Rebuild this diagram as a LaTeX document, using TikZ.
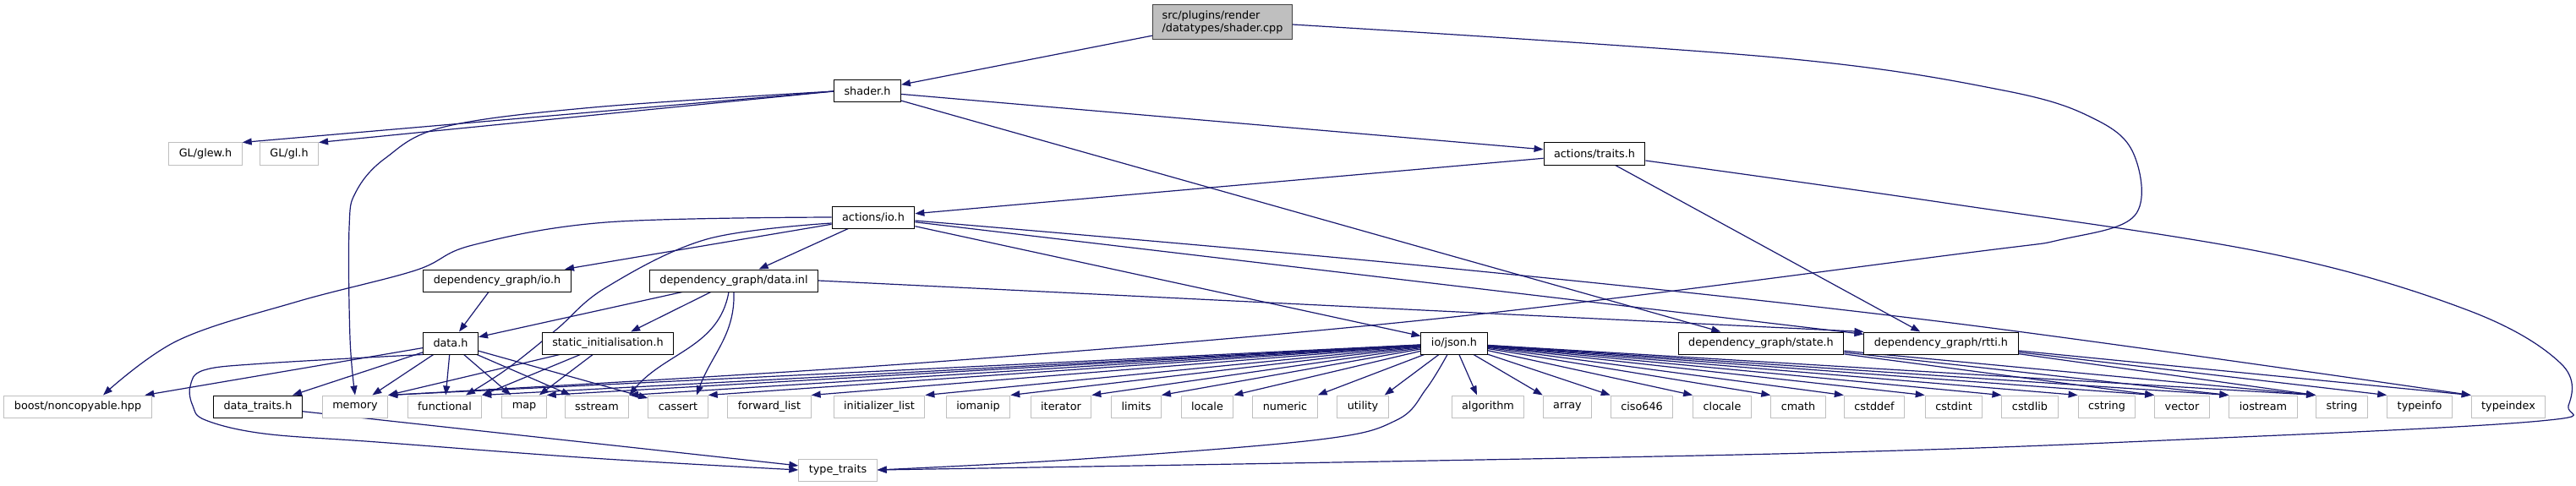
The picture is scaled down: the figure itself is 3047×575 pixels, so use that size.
\documentclass[tikz,border=0pt]{standalone}
\usepackage{fontspec}
\setmainfont{DejaVu Sans}
\usetikzlibrary{arrows.meta}
\pgfdeclarelayer{background}
\pgfsetlayers{background,main}
\definecolor{edgeblue}{HTML}{191970}
\definecolor{sysgray}{HTML}{BFBFBF}
\definecolor{docgray}{HTML}{404040}
\begin{document}
\begin{tikzpicture}[x=1pt, y=-1pt, font=\fontsize{12.8}{15}\selectfont,
  hdr/.style={draw=black, line width=1pt, fill=white, inner xsep=12pt, inner ysep=0pt, minimum height=26pt},
  stdhdr/.style={hdr, draw=sysgray},
  srcfile/.style={hdr, fill=sysgray, draw=docgray, align=left, minimum height=41pt, inner xsep=11pt},
  incl/.style={draw=edgeblue, line width=1.2pt, -{Triangle[length=11pt,width=8pt]}}]
  \useasboundingbox (0,0) rectangle (3047,575);
  % files
  \node[srcfile] (cpp) at (1446,26) {src/plugins/render\\/datatypes/shader.cpp};
  \node[hdr] (shader) at (1026,108) {shader.h};
  \node[stdhdr] (glew) at (243,182) {GL/glew.h};
  \node[stdhdr] (gl) at (342,182) {GL/gl.h};
  \node[hdr] (traits) at (1886,182) {actions/traits.h};
  \node[hdr] (actio) at (1033,257) {actions/io.h};
  \node[hdr] (dgio) at (588,332) {dependency\_graph/io.h};
  \node[hdr] (dginl) at (868,332) {dependency\_graph/data.inl};
  \node[hdr] (datah) at (533,406) {data.h};
  \node[hdr] (statinit) at (719,406) {static\_initialisation.h};
  \node[hdr] (json) at (1720,406) {io/json.h};
  \node[hdr] (state) at (2083,406) {dependency\_graph/state.h};
  \node[hdr] (rtti) at (2296,406) {dependency\_graph/rtti.h};
  % bottom row
  \node[stdhdr] (boost) at (92,481) {boost/noncopyable.hpp};
  \node[hdr] (dtraits) at (305,481) {data\_traits.h};
  \node[stdhdr] (memory) at (420,481) {memory};
  \node[stdhdr] (functional) at (526,481) {functional};
  \node[stdhdr] (map) at (620,481) {map};
  \node[stdhdr] (sstream) at (706,481) {sstream};
  \node[stdhdr] (cassert) at (802,481) {cassert};
  \node[stdhdr] (fwdlist) at (910,481) {forward\_list};
  \node[stdhdr] (initlist) at (1040,481) {initializer\_list};
  \node[stdhdr] (iomanip) at (1157,481) {iomanip};
  \node[stdhdr] (iterator) at (1255,481) {iterator};
  \node[stdhdr] (limits) at (1344,481) {limits};
  \node[stdhdr] (locale) at (1428,481) {locale};
  \node[stdhdr] (numeric) at (1520,481) {numeric};
  \node[stdhdr] (utility) at (1612,481) {utility};
  \node[stdhdr] (algorithm) at (1760,481) {algorithm};
  \node[stdhdr] (array) at (1854,481) {array};
  \node[stdhdr] (ciso) at (1942,481) {ciso646};
  \node[stdhdr] (clocale) at (2037,481) {clocale};
  \node[stdhdr] (cmath) at (2127,481) {cmath};
  \node[stdhdr] (cstddef) at (2217,481) {cstddef};
  \node[stdhdr] (cstdint) at (2311,481) {cstdint};
  \node[stdhdr] (cstdlib) at (2401,481) {cstdlib};
  \node[stdhdr] (cstring) at (2492,481) {cstring};
  \node[stdhdr] (vector) at (2581,481) {vector};
  \node[stdhdr] (iostream) at (2677,481) {iostream};
  \node[stdhdr] (string) at (2770,481) {string};
  \node[stdhdr] (typeinfo) at (2862,481) {typeinfo};
  \node[stdhdr] (typeindex) at (2967,481) {typeindex};
  \node[stdhdr] (ttraits) at (991,556) {type\_traits};
  \begin{pgfonlayer}{background}
  % shader.cpp
  \draw[incl] (cpp) -- (shader);
  \draw[incl] plot[smooth, tension=0.6] coordinates {([yshift=-3pt]cpp.east) (2100,68) (2370,107) (2480,142) (2525,185) (2525,255) (2440,283) (2320,300) (1700,377) (1080,430) (memory.north east)};
  % shader.h
  \draw[incl] (shader.west) -- (glew.north east);
  \draw[incl] (shader.west) -- (gl.north east);
  \draw[incl] plot[smooth, tension=0.6] coordinates {(shader.west) (702,127) (526,150) (456,187) (421,227) (413,270) (414,400) (memory.north)};
  \draw[incl] (shader) -- (traits);
  \draw[incl] (shader) -- (state);
  % actions/traits.h
  \draw[incl] (traits) -- (actio);
  \draw[incl] (traits) -- (rtti);
  \draw[incl] plot[smooth, tension=0.6] coordinates {([yshift=-8pt]traits.east) (2300,240) (2685,300) (2919,367) (3029,430) (3038,480) (3005,498) (2650,517) (2100,537) (ttraits.east)};
  % actions/io.h
  \draw[incl] plot[smooth, tension=0.6] coordinates {(actio.west) (717,263) (559,290) (491,320) (351,357) (210,403) ([xshift=30pt]boost.north)};
  \draw[incl] (actio) -- (dgio);
  \draw[incl] plot[smooth, tension=0.6] coordinates {([yshift=-7pt]actio.west) (836,283) (717,340) (658,390) (599,437) ([xshift=25pt]functional.north)};
  \draw[incl] (actio) -- (dginl);
  \draw[incl] (actio) -- (json);
  \draw[incl] (actio) -- (rtti);
  \draw[incl] plot[smooth, tension=0.6] coordinates {([yshift=-4pt]actio.east) (1700,316) (2300,381) (typeindex.north west)};
  % dependency_graph
  \draw[incl] (dgio) -- (datah);
  \draw[incl] (dginl) -- (datah);
  \draw[incl] (dginl) -- (statinit);
  \draw[incl] ([xshift=-6pt]dginl.south) to[out=-100, in=50] (sstream.north east);
  \draw[incl] (dginl.south) to[out=-88, in=70] ([xshift=22pt]cassert.north);
  \draw[incl] (dginl.east) -- (rtti.north west);
  % data.h
  \draw[incl] (datah) -- (boost);
  \draw[incl] (datah) -- (dtraits);
  \draw[incl] (datah) -- (memory);
  \draw[incl] (datah) -- (functional);
  \draw[incl] (datah) -- (map);
  \draw[incl] (datah) -- (sstream);
  \draw[incl] (datah) -- (cassert);
  \draw[incl] plot[smooth, tension=0.6] coordinates {(datah.south west) (312,430) (241,438) (225,457) (228,480) (243,497) (312,513) (446,523) (700,542) (ttraits.west)};
  \draw[incl] (dtraits) -- (ttraits);
  % static_initialisation.h
  \draw[incl] (statinit) -- (memory.north east);
  \draw[incl] (statinit) -- (functional.north east);
  \draw[incl] (statinit) -- (map);
  % io/json.h
  \draw[incl] (json) -- (memory.north east);
  \draw[incl] (json) -- (functional.north east);
  \draw[incl] (json) -- (map.north east);
  \draw[incl] (json) -- (sstream.north east);
  \draw[incl] (json) -- (cassert.north east);
  \draw[incl] (json) -- (fwdlist.north east);
  \draw[incl] (json) -- (initlist.north east);
  \draw[incl] (json) -- (iomanip.north east);
  \draw[incl] (json) -- (iterator.north east);
  \draw[incl] (json) -- (limits.north east);
  \draw[incl] (json) -- (locale.north east);
  \draw[incl] (json) -- (numeric.north east);
  \draw[incl] (json) -- ([xshift=-5pt]utility.north east);
  \draw[incl] plot[smooth, tension=0.6] coordinates {([xshift=-8pt]json.south) (1687,460) (1652,497) (1561,520) (1281,543) (ttraits.east)};
  \draw[incl] (json) -- ([xshift=-13pt]algorithm.north);
  \draw[incl] (json) -- (array.north west);
  \draw[incl] (json) -- (ciso.north west);
  \draw[incl] (json) -- (clocale.north west);
  \draw[incl] (json) -- (cmath.north west);
  \draw[incl] (json) -- (cstddef.north west);
  \draw[incl] (json) -- (cstdint.north west);
  \draw[incl] (json) -- (cstdlib.north west);
  \draw[incl] (json) -- (cstring.north west);
  \draw[incl] (json) -- (vector.north west);
  \draw[incl] (json) -- (iostream.north west);
  \draw[incl] (json) -- (string.north west);
  % state.h and rtti.h
  \draw[incl] (state) -- (vector.north west);
  \draw[incl] (state) -- (iostream.north west);
  \draw[incl] (state) -- (string.north west);
  \draw[incl] (rtti) -- (string.north west);
  \draw[incl] (rtti) -- (typeinfo.north west);
  \draw[incl] (rtti) -- (typeindex.north west);
  \end{pgfonlayer}
\end{tikzpicture}
\end{document}
